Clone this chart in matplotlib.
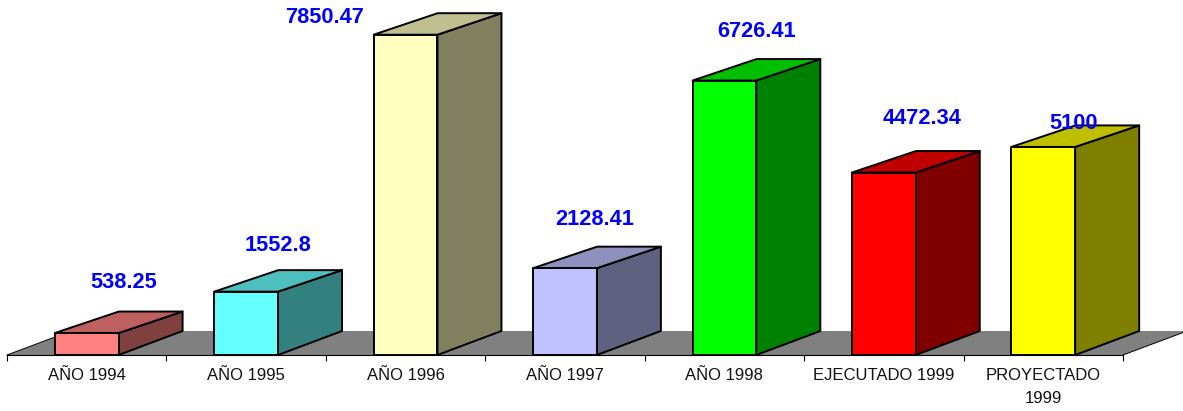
import matplotlib
matplotlib.use('Agg')
import matplotlib.pyplot as plt
from matplotlib.colors import to_rgb
from matplotlib.patches import Polygon

categories = ['AÑO 1994', 'AÑO 1995', 'AÑO 1996', 'AÑO 1997', 'AÑO 1998',
              'EJECUTADO 1999', 'PROYECTADO\n1999']
values = [538.25, 1552.8, 7850.47, 2128.41, 6726.41, 4472.34, 5100]
value_labels = ['538.25', '1552.8', '7850.47', '2128.41', '6726.41', '4472.34', '5100']
bar_colors = ['#FF8080', '#66FFFF', '#FFFFC0', '#C0C0FF', '#00FF00', '#FF0000', '#FFFF00']

# label offsets from the bar's front top centre, in pixels
label_dx = [37, 32, -81, 30, 32, 38, 30]
label_dy = [51, 46, 17, 49, 49, 54, 23]

W, H = 1183, 411
PX_X = 159.43   # pixels per category
PX_Y = 0.0408   # pixels per value unit
AXIS_LEFT = 7
BASELINE = 355
BAR_W = 0.4
DEPTH_X = 64 / PX_X
TOP_DEPTH = 21.5 / PX_Y
FLOOR_DEPTH = 24 / PX_Y
LW = 1.4

plt.rcParams['font.family'] = ['Liberation Sans', 'DejaVu Sans']

fig = plt.figure(figsize=(W / 100, H / 100), dpi=100, facecolor='white')
ax = fig.add_axes([0, 0, 1, 1])
ax.set_xlim(-AXIS_LEFT / PX_X, (W - AXIS_LEFT) / PX_X)
ax.set_ylim(-(H - BASELINE) / PX_Y, BASELINE / PX_Y)
ax.patch.set_visible(False)

n = len(categories)

# floor
ax.add_patch(Polygon([(0, 0), (n, 0), (n + DEPTH_X, FLOOR_DEPTH), (DEPTH_X, FLOOR_DEPTH)],
                     facecolor='#808080', edgecolor='none', zorder=1))
ax.plot([0, DEPTH_X], [0, FLOOR_DEPTH], color='black', lw=0.7, zorder=1.5)
ax.plot([n, n + DEPTH_X], [0, FLOOR_DEPTH], color='black', lw=0.7, zorder=1.5)


def shade(color, k):
    return tuple(c * k for c in to_rgb(color))


for i, (v, c) in enumerate(zip(values, bar_colors)):
    x0 = i + 0.5 - BAR_W / 2
    x1 = x0 + BAR_W
    z = 3 + i
    ax.add_patch(Polygon([(x1, 0), (x1 + DEPTH_X, FLOOR_DEPTH), (x1 + DEPTH_X, v + TOP_DEPTH), (x1, v)],
                         facecolor=shade(c, 0.5), edgecolor='black', lw=LW, joinstyle='round', zorder=z))
    ax.add_patch(Polygon([(x0, v), (x1, v), (x1 + DEPTH_X, v + TOP_DEPTH), (x0 + DEPTH_X, v + TOP_DEPTH)],
                         facecolor=shade(c, 0.75), edgecolor='black', lw=LW, joinstyle='round', zorder=z))
    ax.add_patch(Polygon([(x0, 0), (x1, 0), (x1, v), (x0, v)],
                         facecolor=c, edgecolor='black', lw=LW, joinstyle='round', zorder=z))
    ax.text(i + 0.5 + label_dx[i] / PX_X, v + label_dy[i] / PX_Y, value_labels[i],
            color='#0000FF', fontsize=15.7, fontweight='bold', ha='center', va='center', zorder=20)

for side in ['top', 'left', 'right']:
    ax.spines[side].set_visible(False)
ax.spines['bottom'].set_position(('data', 0))
ax.spines['bottom'].set_bounds(0, n)
ax.spines['bottom'].set_linewidth(0.8)
ax.spines['bottom'].set_zorder(2)

ax.set_yticks([])
ax.set_xticks(range(n + 1))
ax.set_xticklabels([])
ax.set_xticks([i + 0.5 for i in range(n)], minor=True)
ax.set_xticklabels(categories, minor=True, fontsize=12, color='#111111', linespacing=1.7)
ax.tick_params(axis='x', which='major', length=4.3, width=0.8, direction='out')
ax.tick_params(axis='x', which='minor', length=0, pad=9)

fig.savefig('out.png', dpi=100)
